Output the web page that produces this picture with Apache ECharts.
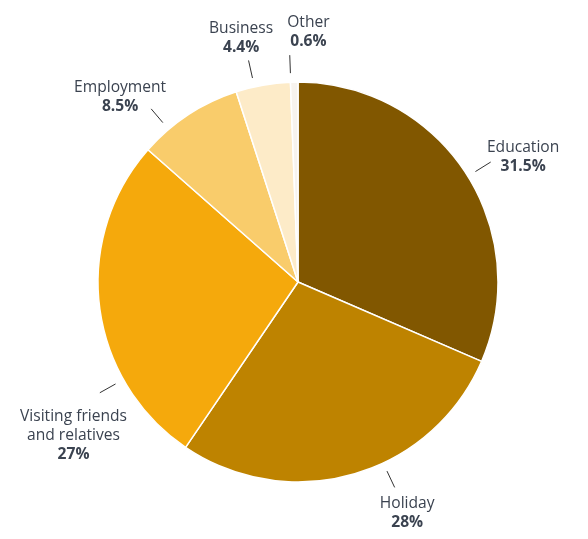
<!DOCTYPE html>
<html><head><meta charset="utf-8">
<script src="https://cdn.jsdelivr.net/npm/echarts@6/dist/echarts.min.js"></script>
<style>html,body{margin:0;padding:0;background:#fff}#c{width:588px;height:539px}</style>
</head><body><div id="c"></div>
<script>
const categories = ['Education', 'Holiday', 'Visiting friends\nand relatives', 'Employment', 'Business', 'Other'];
const shares = [31.5, 28, 27, 8.5, 4.4, 0.6];
const colors = ['#815700', '#BE8300', '#F5A90C', '#F9CC6B', '#FDEBC8', '#F7F3EE'];

// layout
const pieCenter = [298, 282];
const pieRadius = 200;
const lineGap = 9, lineLen = 18;
const labelAngleShift = [1.4, -9, -22, -7, -2.5, -1];
const edgeMargin = 20;

const total = shares.reduce((a, b) => a + b, 0);
const midAngles = [];
{ let acc = 0; shares.forEach(v => { midAngles.push((acc + v / 2) / total * 360); acc += v; }); }
const placed = [];

const chart = echarts.init(document.getElementById('c'), null, {renderer: 'canvas'});
chart.setOption({
  animation: false,
  backgroundColor: '#fff',
  series: [{
    type: 'pie',
    center: pieCenter,
    radius: pieRadius,
    startAngle: 90,
    clockwise: true,
    avoidLabelOverlap: false,
    itemStyle: {borderColor: '#fff', borderWidth: 1.5},
    data: categories.map((n, i) => ({name: n, value: shares[i], itemStyle: {color: colors[i]}})),
    label: {
      show: true,
      position: 'outside',
      formatter: p => `{n|${p.name}}\n{v|${p.value}%}`,
      rich: {
        n: {fontFamily: 'Open Sans', fontSize: 15.6, color: '#3b4350', lineHeight: 19, align: 'center'},
        v: {fontFamily: 'Open Sans', fontSize: 15.6, fontWeight: 'bold', color: '#3b4350', lineHeight: 19, align: 'center'}
      }
    },
    labelLine: {show: true, length: lineLen, length2: 0, lineStyle: {color: '#333', width: 1}},
    labelLayout: function (params) {
      const i = params.dataIndex;
      const a = (midAngles[i] + labelAngleShift[i]) * Math.PI / 180;
      const dx = Math.sin(a), dy = -Math.cos(a);
      const r0 = pieRadius + lineGap, r1 = r0 + lineLen;
      const p0 = [pieCenter[0] + dx * r0, pieCenter[1] + dy * r0];
      const p1 = [pieCenter[0] + dx * r1, pieCenter[1] + dy * r1];
      const w = params.labelRect.width, h = params.labelRect.height;
      let cx = p1[0] + dx * (w / 2 + 2);
      let cy = p1[1] + dy * (h / 2 + (dy > 0 ? 16 : 6)) * Math.pow(Math.abs(dy), 1.5);
      const minX = edgeMargin + w / 2;
      if (cx < minX) { cy += (minX - cx) * 1.6; cx = minX; }
      const maxX = 588 - edgeMargin - w / 2;
      if (cx > maxX) { cy += (cx - maxX) * 1.6 * Math.sign(dy); cx = maxX; }
      for (const o of placed) {
        if (!o || o.i === i) continue;
        const overlapY = Math.abs(cy - o.cy) < (h + o.h) / 2;
        const need = (w + o.w) / 2 + 14;
        if (overlapY && Math.abs(cx - o.cx) < need) {
          cx = cx >= o.cx ? o.cx + need : o.cx - need;
        }
      }
      placed[i] = {i, cx, cy, w, h};
      return {
        x: cx, y: cy, align: 'center', verticalAlign: 'middle',
        labelLinePoints: [p0, p1, p1]
      };
    }
  }]
});
</script></body></html>
